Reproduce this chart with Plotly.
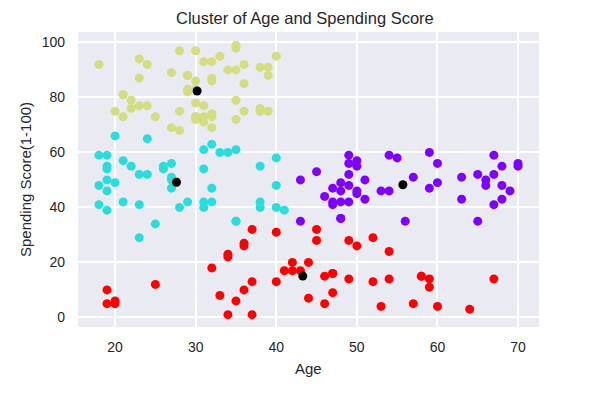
import plotly.graph_objects as go

age = [19,21,20,23,31,22,35,23,64,30,67,35,58,24,37,22,35,20,52,35,
       35,25,46,31,54,29,45,35,40,23,60,21,53,18,49,21,42,30,36,20,
       65,24,48,31,49,24,50,27,29,31,49,33,31,59,50,47,51,69,27,53,
       70,19,67,54,63,18,43,68,19,32,70,47,60,60,59,26,45,40,23,49,
       57,38,67,46,21,48,55,22,34,50,68,18,48,40,32,24,47,27,48,20,
       23,49,67,26,49,21,66,54,68,66,65,19,38,19,18,19,63,49,51,50,
       27,38,40,39,23,31,43,40,59,38,47,39,25,31,20,29,44,32,19,35,
       57,32,28,32,25,28,48,32,34,34,43,39,44,38,47,27,37,30,34,30,
       56,29,19,31,50,36,42,33,36,32,40,28,36,36,52,30,58,27,59,35,
       37,32,46,29,41,30,54,28,41,36,34,32,33,38,47,35,45,32,32,30]

score = [39,81,6,77,40,76,6,94,3,72,14,99,15,77,13,79,35,66,29,98,
         35,73,5,73,14,82,32,61,31,87,4,73,4,92,14,81,17,73,26,75,
         35,92,36,61,28,65,55,47,42,42,52,60,54,60,45,41,50,46,51,46,
         56,55,52,59,51,59,50,48,59,47,55,42,49,56,47,54,53,48,52,42,
         51,55,41,44,57,46,58,55,60,46,55,41,49,40,42,52,47,50,42,49,
         41,48,59,55,56,42,50,46,43,48,52,54,42,46,48,50,43,59,43,57,
         56,40,58,91,29,77,35,95,11,75,9,75,34,71,5,88,7,73,10,72,
         5,93,40,87,12,97,36,74,22,90,17,88,20,76,16,89,1,78,1,73,
         35,83,5,93,26,75,20,95,27,63,13,75,10,92,13,86,15,69,14,90,
         32,86,15,88,39,97,24,68,17,85,23,69,8,91,16,79,28,74,18,83]

# cluster labels: 0 purple, 1 cyan, 2 yellow, 3 red
label = [1,2,3,2,1,2,3,2,3,2,3,2,3,2,3,2,1,1,3,2,
         1,2,3,2,3,2,3,1,3,2,3,2,3,2,3,2,3,2,3,2,
         0,2,0,1,3,1,0,1,1,1,0,1,1,0,0,0,0,0,1,0,
         0,1,0,0,0,1,0,0,1,1,0,0,0,0,0,1,0,1,1,0,
         0,1,0,0,1,0,0,1,1,0,0,1,0,1,1,1,0,1,0,1,
         1,0,0,1,0,1,0,0,0,0,0,1,1,1,1,1,0,0,0,0,
         1,1,1,2,1,2,0,2,3,2,3,2,1,2,3,2,3,2,3,2,
         3,2,1,2,3,2,0,2,3,2,3,2,3,2,3,2,3,2,3,2,
         0,2,3,2,3,2,3,2,3,1,3,2,3,2,3,2,3,2,3,2,
         3,2,3,2,1,2,3,2,3,2,3,2,3,2,3,2,3,2,3,2]

centroid_age = [55.71, 27.62, 30.18, 43.29]
centroid_score = [48.23, 49.15, 82.35, 15.02]

palette = ["#8000ff", "#2adddd", "#d4dd80", "#ff0000"]

fig = go.Figure()
fig.add_trace(go.Scatter(
    x=age, y=score, mode="markers",
    marker=dict(size=9, color=[palette[l] for l in label], line=dict(width=0)),
    showlegend=False, hoverinfo="skip"))
fig.add_trace(go.Scatter(
    x=centroid_age, y=centroid_score, mode="markers",
    marker=dict(size=9, color="black", line=dict(width=0)),
    showlegend=False, hoverinfo="skip"))

font_fam = "Liberation Sans, Arial, sans-serif"
OFF = 8  # page body margin
W, H = 611 - OFF, 397 - OFF
L, T = 78 - OFF, 32 - OFF
R = 611 - 539
B = 397 - 327
plot_w = W - L - R
plot_h = H - T - B

def px_x(px):
    return (px - OFF - L) / plot_w

def px_y(py):
    return (H - B - (py - OFF)) / plot_h

fig.update_layout(
    width=W, height=H,
    margin=dict(l=L, r=R, t=T, b=B, autoexpand=False),
    paper_bgcolor="white", plot_bgcolor="#EAEAF2",
    font=dict(family=font_fam, color="#262626", size=13),
    xaxis=dict(range=[15.4, 72.6], tickvals=[20, 30, 40, 50, 60, 70],
               showgrid=True, gridcolor="white", gridwidth=1.5,
               zeroline=False, showline=False, ticks="", automargin=False,
               ticklabelstandoff=10, tickfont=dict(size=14, color="#262626")),
    yaxis=dict(range=[-3.5, 103.8], tickvals=[0, 20, 40, 60, 80, 100],
               showgrid=True, gridcolor="white", gridwidth=1.5,
               zeroline=False, showline=False, ticks="", automargin=False,
               ticklabelstandoff=12, tickfont=dict(size=14, color="#262626")),
    annotations=[
        dict(text="Cluster of Age and Spending Score",
             x=px_x(305), y=px_y(17.7), xref="paper", yref="paper",
             xanchor="center", yanchor="middle", showarrow=False,
             font=dict(size=16.5, color="#262626")),
        dict(text="Age", x=px_x(308), y=px_y(368), xref="paper", yref="paper",
             xanchor="center", yanchor="middle", showarrow=False,
             font=dict(size=15, color="#262626")),
        dict(text="Spending Score(1-100)", x=px_x(25), y=px_y(180),
             xref="paper", yref="paper", xanchor="center", yanchor="middle",
             showarrow=False, textangle=-90,
             font=dict(size=15, color="#262626")),
    ],
)

fig.write_html("out.html")
